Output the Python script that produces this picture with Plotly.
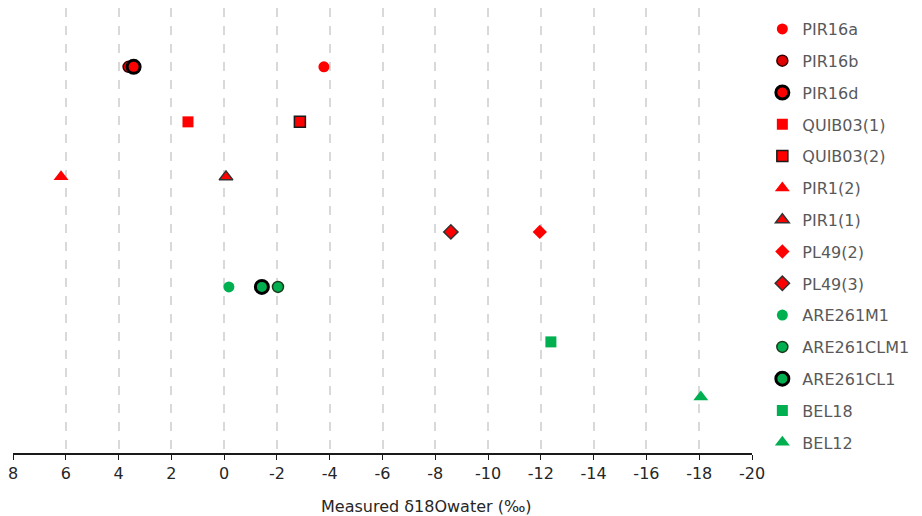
import plotly.graph_objects as go

names = ["PIR16a", "PIR16b", "PIR16d", "QUIB03(1)", "QUIB03(2)", "PIR1(2)", "PIR1(1)",
         "PL49(2)", "PL49(3)", "ARE261M1", "ARE261CLM1", "ARE261CL1", "BEL18", "BEL12"]
d18o = [-3.78, 3.62, 3.43, 1.37, -2.87, 6.18, -0.07, -11.96, -8.59, -0.18, -2.04, -1.43, -12.38, -18.06]
rows = [1, 1, 1, 2, 2, 3, 3, 4, 4, 5, 5, 5, 6, 7]

RED = "#FF0000"
GREEN = "#00B050"
styles = {
    "PIR16a": dict(symbol="circle", color=RED, size=11, lc=RED, lw=0),
    "PIR16b": dict(symbol="circle", color="#E00000", size=11, lc="#3a0000", lw=1.5),
    "PIR16d": dict(symbol="circle", color=RED, size=13, lc="#000000", lw=3),
    "QUIB03(1)": dict(symbol="square", color=RED, size=11, lc=RED, lw=0),
    "QUIB03(2)": dict(symbol="square", color=RED, size=11, lc="#1a1a1a", lw=1.5),
    "PIR1(2)": dict(symbol="triangle-up", color=RED, size=13, lc=RED, lw=0),
    "PIR1(1)": dict(symbol="triangle-up", color=RED, size=12, lc="#333333", lw=1.5),
    "PL49(2)": dict(symbol="diamond", color=RED, size=11, lc=RED, lw=0),
    "PL49(3)": dict(symbol="diamond", color=RED, size=11, lc="#333333", lw=1.5),
    "ARE261M1": dict(symbol="circle", color=GREEN, size=11, lc=GREEN, lw=0),
    "ARE261CLM1": dict(symbol="circle", color=GREEN, size=11, lc="#1a3a1a", lw=1.5),
    "ARE261CL1": dict(symbol="circle", color=GREEN, size=13, lc="#000000", lw=3),
    "BEL18": dict(symbol="square", color=GREEN, size=11, lc=GREEN, lw=0),
    "BEL12": dict(symbol="triangle-up", color=GREEN, size=13, lc=GREEN, lw=0),
}

tick_vals = [8, 6, 4, 2, 0, -2, -4, -6, -8, -10, -12, -14, -16, -18, -20]
x_title = "Measured δ18Owater (‰)"

FONT = "DejaVu Sans, Verdana, sans-serif"

fig = go.Figure()
for n, x, r in zip(names, d18o, rows):
    s = styles[n]
    fig.add_trace(go.Scatter(
        x=[x], y=[r], mode="markers", name=n, legendgroup=n,
        marker=dict(symbol=s["symbol"], color=s["color"], size=s["size"],
                    line=dict(color=s["lc"], width=s["lw"])),
    ))

fig.add_annotation(text=x_title, xref="paper", yref="paper", x=0.559, y=-0.121,
                   xanchor="center", yanchor="middle", showarrow=False,
                   font=dict(family=FONT, size=16, color="#262626"))

fig.update_layout(
    width=914, height=508,
    margin=dict(l=5, r=170, t=0, b=63),
    plot_bgcolor="white", paper_bgcolor="white",
    font=dict(family=FONT, size=16, color="#262626"),
    showlegend=True,
    legend=dict(x=1.014, xanchor="left", y=0.991, yanchor="top", yref="paper",
                font=dict(family=FONT, size=16, color="#595959"), tracegroupgap=8,
                itemwidth=30, bgcolor="rgba(0,0,0,0)", maxheight=800),
    xaxis=dict(range=[8, -20], tickvals=tick_vals, ticktext=[str(v) for v in tick_vals],
               showgrid=True, gridcolor="#D9D9D9", griddash="dash", gridwidth=1.5,
               showline=True, linecolor="#1a1a1a", linewidth=1.5, automargin=False,
               ticks="outside", ticklen=5, tickcolor="#1a1a1a", zeroline=False,
               ticklabeloverflow="allow",
               tickfont=dict(family=FONT, size=16, color="#262626")),
    yaxis=dict(range=[8.02, -0.07], showgrid=False, showticklabels=False, zeroline=False,
               showline=False, ticks="", automargin=False),
)

fig.write_html("out.html")
